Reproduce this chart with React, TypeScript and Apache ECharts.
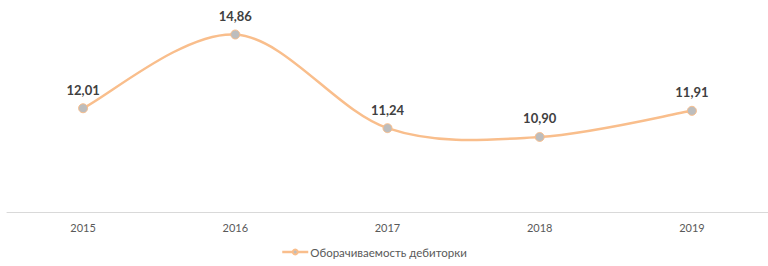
import React, { useEffect, useRef } from "react";
import * as echarts from "echarts";

const years = ["2015", "2016", "2017", "2018", "2019"];
const turnover = [12.01, 14.86, 11.24, 10.9, 11.91];
const seriesName = "Оборачиваемость дебиторки";

const LINE = "#F9BE8C";
const FONT = "Lato, 'Noto Sans', sans-serif";

export default function App() {
  const ref = useRef<HTMLDivElement>(null);
  useEffect(() => {
    const chart = echarts.init(ref.current!, null, { renderer: "svg" });
    chart.setOption({
      animation: false,
      textStyle: { fontFamily: FONT },
      grid: { left: 7, right: 0, top: 5, bottom: 54 },
      legend: {
        top: 246,
        left: 281,
        padding: 0,
        itemWidth: 26,
        itemHeight: 6,
        itemGap: 10,
        textStyle: { color: "#595959", fontSize: 11.5, fontFamily: FONT, padding: [0, 0, 0, -3] },
        data: [
          {
            name: seriesName,
            lineStyle: { color: LINE, width: 2.5, opacity: 1 },
          },
        ],
      },
      xAxis: {
        type: "category",
        data: years,
        boundaryGap: true,
        axisLine: { lineStyle: { color: "#d9d9d9", width: 1 } },
        axisTick: { show: false },
        axisLabel: { color: "#595959", fontSize: 11, margin: 10, fontFamily: FONT },
      },
      yAxis: {
        type: "value",
        min: 8,
        max: 16,
        show: false,
        splitLine: { show: false },
      },
      series: [
        {
          type: "custom",
          silent: true,
          data: turnover.map((v, i) => [i, v]),
          renderItem: (params: any, api: any) => {
            if (params.dataIndex !== 0) return null;
            const pts = turnover.map((v, i) => api.coord([i, v]));
            const n = pts.length;
            let d = `M${pts[0][0]},${pts[0][1]}`;
            for (let i = 0; i < n - 1; i++) {
              const p0 = pts[Math.max(0, i - 1)];
              const p1 = pts[i];
              const p2 = pts[i + 1];
              const p3 = pts[Math.min(n - 1, i + 2)];
              const c1x = p1[0] + (p2[0] - p0[0]) / 6;
              const c1y = p1[1] + (p2[1] - p0[1]) / 6;
              const c2x = p2[0] - (p3[0] - p1[0]) / 6;
              const c2y = p2[1] - (p3[1] - p1[1]) / 6;
              d += ` C${c1x},${c1y} ${c2x},${c2y} ${p2[0]},${p2[1]}`;
            }
            return {
              type: "path",
              shape: { pathData: d },
              style: { fill: "none", stroke: LINE, lineWidth: 2.5 },
            };
          },
          z: 1,
        },
        {
          name: seriesName,
          type: "line",
          data: turnover,
          symbol: "circle",
          symbolSize: 9,
          lineStyle: { color: LINE, width: 2.5, opacity: 0 },
          itemStyle: { color: "#BDBDBD", borderColor: LINE, borderWidth: 1 },
          z: 3,
          label: {
            show: true,
            position: "top",
            distance: 7,
            color: "#404040",
            fontWeight: "bold",
            fontSize: 13,
            fontFamily: FONT,
            formatter: (p: any) => p.value.toFixed(2).replace(".", ","),
          },
        },
      ],
    });
    return () => chart.dispose();
  }, []);
  return (
    <div
      ref={ref}
      style={{ position: "absolute", left: 0, top: 0, width: 768, height: 266 }}
    />
  );
}
